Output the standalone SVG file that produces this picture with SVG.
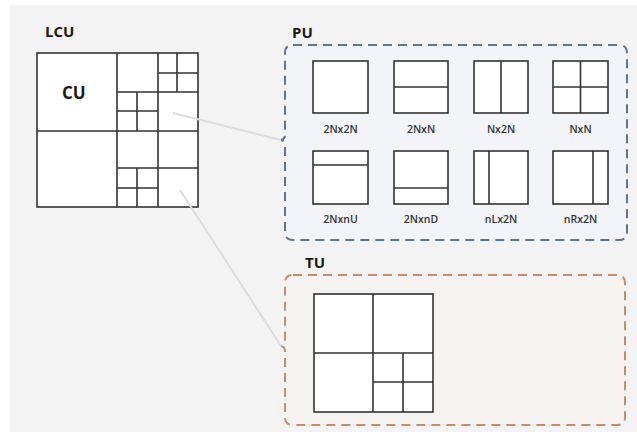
<svg xmlns="http://www.w3.org/2000/svg" width="637" height="432" viewBox="0 0 637 432">
<style>
.lbl{font-family:"Open Sans","Noto Sans","Liberation Sans",sans-serif;font-weight:bold;fill:#1a1a1a}
.big{font-size:15px}
.small{font-size:10.5px;text-anchor:middle;font-weight:600;fill:#333}
.box{fill:#ffffff;stroke:#333;stroke-width:1.6}
.ln{stroke:#333;stroke-width:1.6;fill:none}
.conn{stroke:#dcdcdc;stroke-width:2;fill:none}
</style>
<rect x="0" y="0" width="637" height="432" fill="#ffffff"/>
<rect x="10" y="5" width="627" height="427" fill="#f3f3f3"/>
<g id="LCU">
<text class="lbl big" x="45" y="37">LCU</text>
<rect class="box" x="37" y="53" width="161" height="154"/>
<path class="ln" d="M117 53V207M37 131H198M158 53V207M117 92H198M158 73H198M177 53V92M117 111H158M137 92V131M117 168H198M117 188H158M137 168V207"/>
<text class="lbl" x="62" y="99" font-size="17">CU</text>
</g>
<g id="PU">
<text class="lbl big" x="292" y="38">PU</text>
<path d="M293 45H619Q627 45 627 53V232Q627 240 619 240H293Q285 240 285 232V145Q285 141 281 140Q285 139 285 135V53Q285 45 293 45Z" fill="#f2f4f7" stroke="#5c7590" stroke-width="2" stroke-dasharray="9 6"/>
<g id="pu-2Nx2N"><rect class="box" x="313" y="61" width="55" height="52"/><text class="lbl small" x="340.5" y="133">2Nx2N</text></g>
<g id="pu-2NxN"><rect class="box" x="394" y="61" width="54" height="52"/><path class="ln" d="M394 87H448"/><text class="lbl small" x="421" y="133">2NxN</text></g>
<g id="pu-Nx2N"><rect class="box" x="474" y="61" width="54" height="52"/><path class="ln" d="M501 61V113"/><text class="lbl small" x="501" y="133">Nx2N</text></g>
<g id="pu-NxN"><rect class="box" x="553" y="61" width="55" height="52"/><path class="ln" d="M580.5 61V113M553 87H608"/><text class="lbl small" x="580.5" y="133">NxN</text></g>
<g id="pu-2NxnU"><rect class="box" x="313" y="151" width="55" height="53"/><path class="ln" d="M313 165H368"/><text class="lbl small" x="340.5" y="223">2NxnU</text></g>
<g id="pu-2NxnD"><rect class="box" x="394" y="151" width="54" height="53"/><path class="ln" d="M394 188H448"/><text class="lbl small" x="421" y="223">2NxnD</text></g>
<g id="pu-nLx2N"><rect class="box" x="474" y="151" width="54" height="53"/><path class="ln" d="M489 151V204"/><text class="lbl small" x="501" y="223">nLx2N</text></g>
<g id="pu-nRx2N"><rect class="box" x="553" y="151" width="55" height="53"/><path class="ln" d="M593 151V204"/><text class="lbl small" x="580.5" y="223">nRx2N</text></g>
</g>
<g id="TU">
<text class="lbl big" x="305" y="268">TU</text>
<path d="M293 275H617Q625 275 625 283V417Q625 425 617 425H293Q285 425 285 417V351Q285 347 281 346Q285 345 285 341V283Q285 275 293 275Z" fill="#f5f3f2" stroke="#c98d66" stroke-width="2" stroke-dasharray="9 6"/>
<rect class="box" x="314" y="294" width="119" height="118"/>
<path class="ln" d="M373 294V412M314 353H433M403 353V412M373 382H433"/>
</g>
<g id="connectors">
<line class="conn" x1="173" y1="113" x2="281" y2="140"/>
<line class="conn" x1="180" y1="190" x2="281" y2="346"/>
</g>
</svg>
